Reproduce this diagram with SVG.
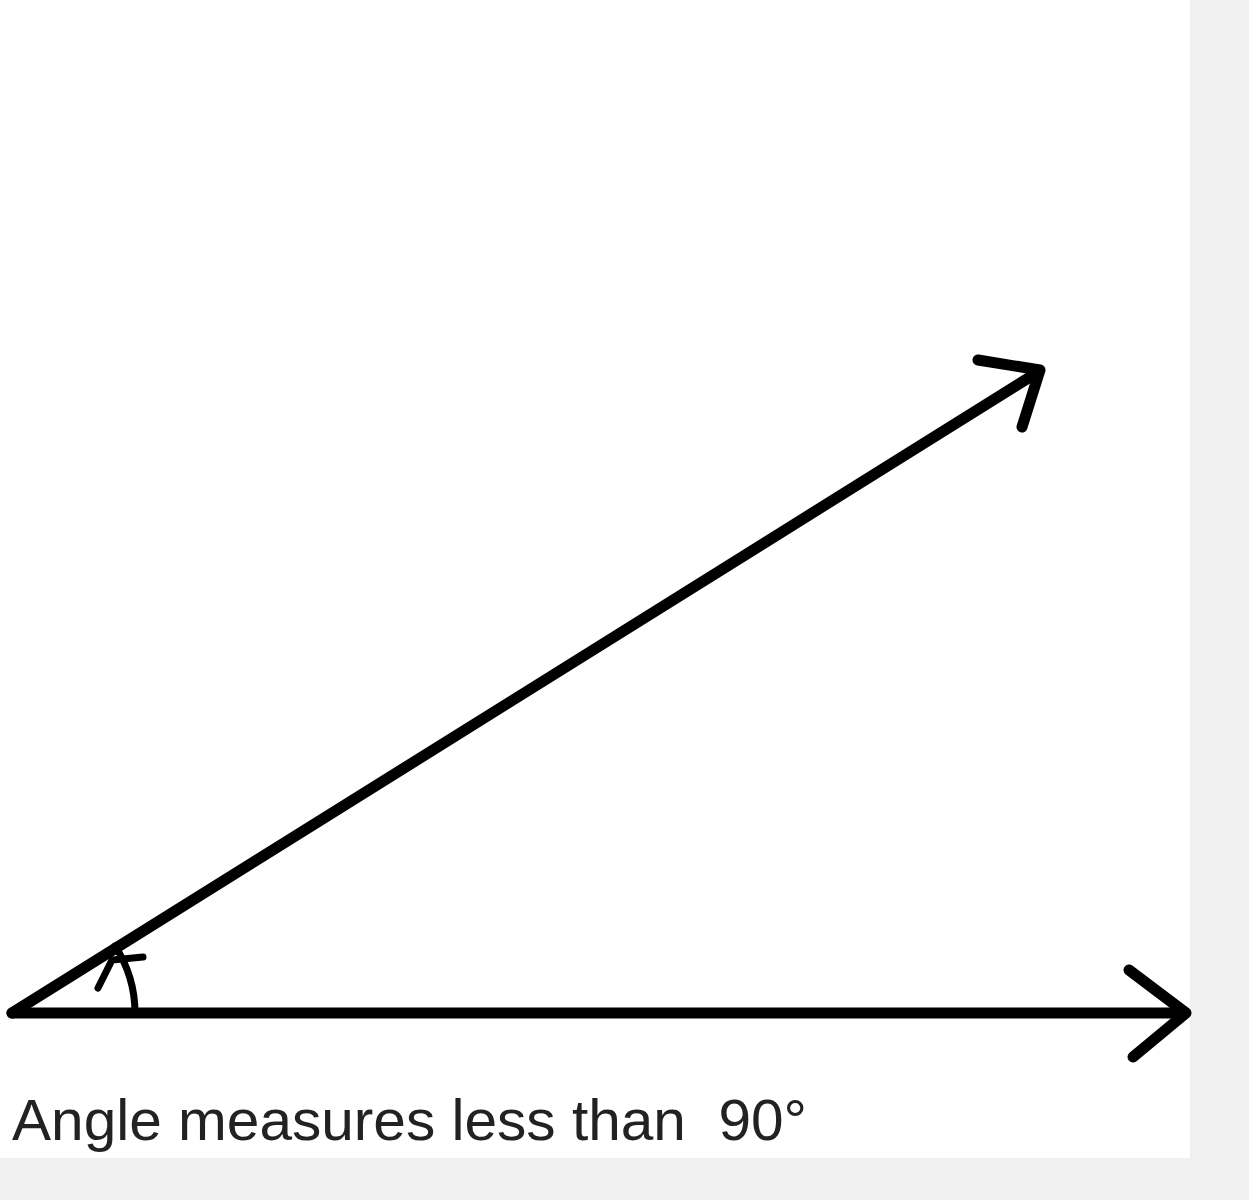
<svg xmlns="http://www.w3.org/2000/svg" width="1249" height="1200" viewBox="0 0 1249 1200">
<style>
.ray{stroke:#000;stroke-width:11;fill:none;stroke-linecap:round;stroke-linejoin:round}
.arc{stroke:#000;stroke-width:7;fill:none;stroke-linecap:round}
.lbl{font-family:"Liberation Sans",Arial,sans-serif;font-size:58px;fill:#222}
</style>
<rect x="0" y="0" width="1249" height="1200" fill="#f0f0f0"/>
<rect x="0" y="0" width="1190" height="1158" fill="#ffffff"/>
<g id="connectors">
<g id="ray-horizontal">
<line class="ray" x1="12" y1="1013" x2="1184" y2="1013"/>
<polyline class="ray" points="1129,970 1186,1013 1133,1057"/>
</g>
<g id="ray-slanted">
<line class="ray" x1="12" y1="1013" x2="1038" y2="372"/>
<polyline class="ray" points="978,360 1040,370 1022,427"/>
</g>
</g>
<g id="angle-mark">
<path class="arc" d="M135,1013 A123,123 0 0 0 115,946"/>
<polyline class="arc" points="98,988 112,960 143,957"/>
</g>
<g id="label">
<text class="lbl" x="12" y="1140" xml:space="preserve" textLength="795" lengthAdjust="spacingAndGlyphs">Angle measures less than  90°</text>
</g>
</svg>
